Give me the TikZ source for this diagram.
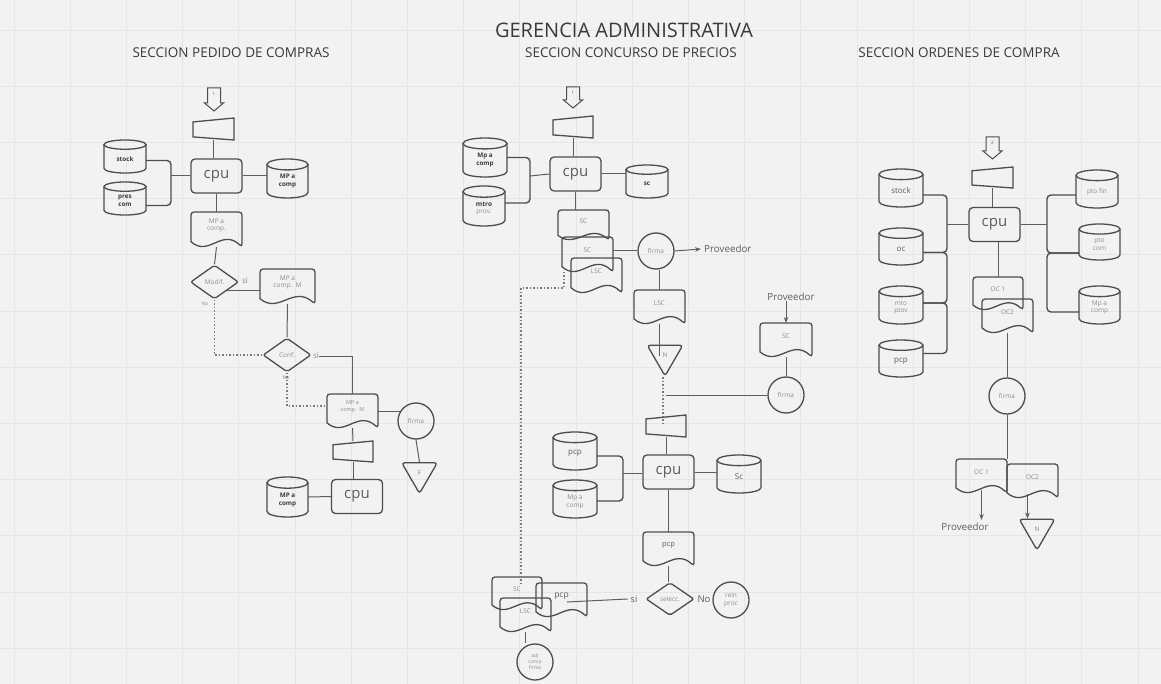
\documentclass[tikz,border=0pt]{standalone}
\usepackage{fontspec}
\setmainfont{Open Sans}
\usetikzlibrary{shapes.geometric,calc,arrows.meta}
\definecolor{bgc}{HTML}{F2F2F2}
\definecolor{gridc}{HTML}{E5E5E5}
\definecolor{sc}{HTML}{4D4D4D}
\definecolor{lc}{HTML}{5E5E5E}
\definecolor{dc}{HTML}{7A7A7A}
\definecolor{gtxt}{HTML}{8C8C8C}
\definecolor{dtxt}{HTML}{3A3A3A}
\newcommand\fs[2]{\fontsize{#1}{#2}\selectfont}
\tikzset{
  box/.style={rectangle,draw=none,inner sep=0pt,outer sep=0pt},
  shp/.style={draw=sc,line width=1.3pt},
  ln/.style={draw=lc,line width=1pt},
  brk/.style={draw=sc,line width=1.4pt,rounded corners=4pt},
  dsh/.style={draw=dc,line width=1.1pt,dash pattern=on 1.5pt off 2pt},
  arr/.style={ln,-{Stealth[length=6pt,width=4.5pt]}},
  dtx/.style={text=gtxt,font=\fs{6.5}{7.6},align=center,inner sep=0pt},
  ctx/.style={text=gtxt,font=\fs{6.5}{7.6},align=center,inner sep=0pt},
  cbold/.style={text=dtxt,font=\bfseries\fs{6.3}{7.6}},
  cpubox/.style={rectangle,draw=sc,line width=1.3pt,rounded corners=4pt,minimum width=51pt,minimum height=34pt,inner sep=0pt,text=lc,font=\fs{15}{18}},
  dia/.style={diamond,draw=sc,line width=1.3pt,rounded corners=2pt,minimum width=48pt,minimum height=34pt,inner sep=0pt,text=gtxt,font=\fs{6.5}{7.6}},
  circ/.style={circle,draw=sc,line width=1.3pt,minimum size=36pt,inner sep=0pt,text=gtxt,font=\fs{6.5}{7.6},align=center},
  tri/.style={regular polygon,regular polygon sides=3,shape border rotate=180,draw=sc,line width=1.3pt,rounded corners=3pt,minimum size=41pt,inner sep=0pt,text=gtxt,font=\fs{6.5}{7.6}},
  lbl/.style={inner sep=0pt,text=gtxt,font=\fs{8}{9}},
  prov/.style={inner sep=0pt,text=lc,font=\fs{9.8}{11}},
  ttl/.style={inner sep=0pt,text=dtxt,font=\fs{13.5}{16}},
}
\newcommand\Doc[7][]{%
  \pgfmathsetmacro\dw{#5-#3}\pgfmathsetmacro\dh{#6-#4}%
  \node[box,minimum width=\dw pt,minimum height=\dh pt] (#2) at ({(#3+#5)/2},{(#4+#6)/2}) {};
  \node[dtx,#1] (#2t) at ({(#3+#5)/2},{#4+0.38*\dh}) {#7};
  \draw[shp,rounded corners=3pt] (#3,{#6-0.15*\dh}) -- (#3,#4) -- (#5,#4) -- (#5,#6) [sharp corners]
    .. controls ({#3+0.6*\dw},{#6-0.55*\dh}) and ({#3+0.35*\dw},{#6+0.3*\dh}) .. (#3,{#6-0.15*\dh}) -- cycle;
}
\newcommand\Cyl[7][]{%
  \pgfmathsetmacro\cw{#5-#3}\pgfmathsetmacro\ch{#6-#4}%
  \pgfmathsetmacro\cx{(#3+#5)/2}\pgfmathsetmacro\rx{\cw/2}\pgfmathsetmacro\ry{0.14*\ch}%
  \pgfmathsetmacro\ka{0.552*\ry}\pgfmathsetmacro\kb{0.552*\rx}%
  \node[box,minimum width=\cw pt,minimum height=\ch pt] (#2) at (\cx,{(#4+#6)/2}) {};
  \node[ctx,#1] (#2t) at (\cx,{(#4+#6+\ry)/2}) {#7};
  \draw[shp] (#3,{#4+\ry}) -- (#3,{#6-\ry}) .. controls (#3,{#6-\ry+\ka}) and ({\cx-\kb},#6) .. (\cx,#6)
    .. controls ({\cx+\kb},#6) and (#5,{#6-\ry+\ka}) .. (#5,{#6-\ry}) -- (#5,{#4+\ry});
  \draw[shp] (\cx,{#4+\ry}) ellipse [x radius=\rx pt, y radius=\ry pt];
}
\newcommand\Trap[5]{%
  \pgfmathsetmacro\th{#5-#3}%
  \node[box,minimum width={(#4-#2)*1pt},minimum height=\th pt] (#1) at ({(#2+#4)/2},{(#3+#5)/2}) {};
  \draw[shp] (#2,{#3+0.18*\th}) -- (#4,#3) -- (#4,#5) -- (#2,{#5-0.14*\th}) -- cycle;
}
\newcommand\BArrow[5]{%
  \node[box,minimum width=19pt,minimum height={(#4-#3)*1pt}] (#1) at (#2,{(#3+#4)/2}) {};
  \draw[shp,line width=1pt] ({#2-6.5},#3) -- ({#2+6.5},#3) -- ({#2+6.5},{#4-8}) -- ({#2+9.5},{#4-8}) -- (#2,#4)
    -- ({#2-9.5},{#4-8}) -- ({#2-6.5},{#4-8}) -- cycle;
  \node[inner sep=0pt,text=lc,font=\fs{4.5}{5}] (#1t) at (#2,{#3+6}) {#5};
}
\begin{document}
\begin{tikzpicture}[x=1pt,y=-1pt]
\useasboundingbox (0,0) rectangle (1161,684);
\fill[bgc] (0,0) rectangle (1161,684);
\foreach \i in {0,...,20} \draw[gridc,line width=0.7pt] ({14+56.2*\i},0) -- ({14+56.2*\i},684);
\foreach \i in {0,...,11} \draw[gridc,line width=0.7pt] (0,{30+56.2*\i}) -- (1161,{30+56.2*\i});

% titles
\node[inner sep=0pt,text=dtxt,font=\fs{20}{23}] (title) at (624,30) {GERENCIA ADMINISTRATIVA};
\node[ttl] (s1) at (231,53) {SECCION PEDIDO DE COMPRAS};
\node[ttl] (s2) at (631,53) {SECCION CONCURSO DE PRECIOS};
\node[ttl] (s3) at (959,53) {SECCION ORDENES DE COMPRA};

% ===== left section =====
\BArrow{arL}{214}{88}{111}{1}
\Trap{trL}{193}{118}{234}{140}
\node[cpubox] (cpuL) at (216.5,176) {cpu};
\Cyl[cbold]{stockL}{104}{140}{146}{173}{stock}
\Cyl[cbold]{presL}{104}{182}{146}{215}{pres\\com}
\Cyl[cbold]{mpL}{267}{159}{308}{198}{MP a\\comp}
\coordinate (brL) at (171,176);
\draw[brk] ([yshift=-4pt]stockL.east) -| (brL) |- ([yshift=-7pt]presL.east);
\draw[ln] (brL) -- (cpuL.west);
\draw[ln] (cpuL.east) -- (cpuL.east -| mpL.west);
\draw[ln] (trL.south) -- (trL.south |- cpuL.north);
\Doc{docA}{191}{212}{242}{247}{MP a\\comp.}
\draw[ln] (cpuL.south) -- (docA.north);
\node[dia] (modL) at (214.5,282) {Modif.};
\draw[ln] (docA.south) -- (modL.north);
\node[lbl] (siL1) at (245,281) {si};
\node[inner sep=0pt,text=gtxt,font=\fs{5}{6}] (noL1) at (205,304) {No};
\Doc{docM}{260}{269}{315}{304}{MP a\\comp.\ \ M}
\draw[ln] (modL.south east) -- (modL.south east -| docM.west);
\node[dia] (confL) at (287,355) {Conf.};
\draw[ln] (docM.south) -- (confL.north);
\node[lbl] (siL2) at (316,356) {si};
\node[inner sep=0pt,text=gtxt,font=\fs{5}{6}] (noL2) at (286,378) {No};
\Doc[font=\fs{5.5}{6.6}]{docN}{327}{394}{378}{428}{MP a\\comp.\ \ M}
\draw[ln] (siL2.east) -| (docN.north);
\draw[dsh] (modL.south) |- (confL.west);
\draw[dsh] (confL.south) |- ([yshift=5pt]docN.west);
\node[circ] (firmaL) at (416,421) {firma};
\draw[ln] (firmaL.150) -- (firmaL.150 -| docN.east);
\node[tri] (fL) at (419.5,473) {F};
\draw[ln] (firmaL.south) -- (fL.north);
\Trap{trL2}{333}{441}{373}{462}
\draw[ln] (docN.south) -- (trL2.north);
\node[cpubox] (cpuL2) at (357,496.5) {cpu};
\draw[ln] (trL2.south) -- (trL2.south |- cpuL2.north);
\Cyl[cbold]{mpL2}{267}{477}{308}{517}{MP a\\comp}
\draw[ln] (mpL2.east) -- (cpuL2.west);

% ===== middle section =====
\BArrow{arM}{573}{87}{108}{1}
\Trap{trM}{553}{116}{593}{138}
\node[cpubox] (cpuM) at (575.5,174) {cpu};
\draw[ln] (trM.south) -- (trM.south |- cpuM.north);
\Cyl[cbold]{mpcM}{463}{138}{507}{177}{Mp a\\comp}
\Cyl{mtroM}{463}{186}{505}{226}{{\bfseries\color{dtxt}mtro}\\prov.}
\coordinate (brM) at (530,176);
\draw[brk] (mpcM.east) -| (brM) |- ([yshift=3pt]mtroM.east);
\draw[ln] (brM) -- (cpuM.west);
\Cyl[cbold]{scM}{626}{165}{668}{198}{sc}
\draw[ln] (cpuM.east) -- (cpuM.east -| scM.west);
\Doc{scd1}{558}{210}{609}{240}{SC}
\draw[ln] (cpuM.south) -- (cpuM.south |- scd1.north);
\Doc{scd2}{562}{237}{613}{272}{SC}
\Doc{lscd}{571}{258}{622}{293}{LSC}
\node[circ] (firmaM) at (656,251) {firma};
\draw[ln] (firmaM.west) -- (firmaM.west -| scd2.east);
\node[prov,anchor=west] (provM1) at (704,249) {Proveedor};
\draw[arr] (firmaM.east) -- ([xshift=-3pt]provM1.west);
\Doc{lscM}{634}{290}{685}{324}{LSC}
\draw[ln] (lscM.north |- firmaM.south) -- (lscM.north);
\node[tri] (nM) at (665,355.5) {N};
\draw[ln] (lscM.south) -- (lscM.south |- nM.center);
\node[prov] (provM2) at (791,297) {Proveedor};
\Doc{scM3}{760}{323}{812}{357}{SC}
\draw[arr] (scM3.north |- provM2.south) -- (scM3.north);
\node[circ] (firmaM2) at (786,395) {firma};
\draw[ln] (scM3.south) -- (firmaM2.north);
\Trap{trM2}{646}{415}{686}{437}
\draw[dsh] ([xshift=-2pt]nM.south) -- ([xshift=-2pt]nM.south |- trM2.center);
\draw[ln] (firmaM2.west) -- (firmaM2.west -| trM2.north);
\node[cpubox] (cpuM2) at (668.5,472) {cpu};
\draw[ln] (trM2.south) -- (trM2.south |- cpuM2.north);
\Cyl[text=lc,font=\fs{8}{9}]{pcpM}{553}{432}{597}{470}{pcp}
\Cyl{mpM2}{553}{480}{597}{518}{Mp a\\comp}
\coordinate (brM2) at (623,473);
\draw[brk] ([yshift=-5pt]pcpM.east) -| (brM2) |- ([yshift=-2pt]mpM2.east);
\draw[ln] (brM2) -- (brM2 -| cpuM2.west);
\Cyl[text=lc,font=\fs{8}{9}]{scM2}{717}{455}{761}{493}{Sc}
\draw[ln] (cpuM2.east) -- (cpuM2.east -| scM2.west);
\Doc[text=lc,font=\fs{7.5}{9}]{pcpD}{643}{532}{694}{566}{pcp}
\draw[ln] (cpuM2.south) -- (cpuM2.south |- pcpD.north);
\node[dia,minimum height=33pt] (selM) at (670,599) {selecc.};
\draw[ln] (pcpD.south) -- (pcpD.south |- selM.north);
\node[lbl,text=lc,font=\fs{9.5}{11}] (noM) at (704,599) {No};
\node[circ] (reinM) at (731,600) {rein\\proc};
\node[lbl,text=lc,font=\fs{9}{10}] (siM) at (634,599) {si};
\Doc{scb}{492}{577}{542}{610}{SC}
\Doc[text=lc,font=\fs{8.5}{10}]{pcpb}{536}{583}{587}{617}{pcp}
\Doc{lscb}{500}{598}{551}{632}{LSC}
\coordinate (siEnd) at (567,602);
\draw[ln] ([xshift=-3pt]siM.west) -- (siEnd);
\node[circ,font=\fs{5}{6}] (adjM) at (535,662) {adj\\comp\\firma};
\draw[ln] (lscb.south) -- (lscb.south |- adjM.north);
\coordinate (dj1) at (521,288);
\draw[dsh] ([xshift=2pt]scd2.south west) |- (dj1) -- ([yshift=-8pt]scb.north -| dj1);

% ===== right section =====
\BArrow{arR}{992.5}{137}{159}{2}
\Trap{trR}{972}{167}{1013}{188}
\node[cpubox] (cpuR) at (994.5,224.5) {cpu};
\draw[ln] (trR.south) -- (trR.south |- cpuR.north);
\Cyl[text=lc,font=\fs{8}{9}]{stockR}{879}{169}{923}{207}{stock}
\Cyl[text=lc,font=\fs{8}{9}]{ocR}{879}{228}{923}{265}{oc}
\Cyl{mtoR}{879}{286}{923}{324}{mto\\ptov}
\Cyl[text=lc,font=\fs{8}{9}]{pcpR}{879}{340}{923}{377}{pcp}
\coordinate (bR1) at (947,224.5);
\coordinate (bR2) at (947,278);
\coordinate (bR3) at (947,328);
\draw[brk] ([yshift=-7pt]stockR.east) -| (bR1) |- ([yshift=-6pt]ocR.east);
\draw[brk] ([yshift=-6pt]ocR.east) -| (bR2) |- ([yshift=2pt]mtoR.east);
\draw[brk] ([yshift=2pt]mtoR.east) -| (bR3) |- ([yshift=5pt]pcpR.east);
\draw[ln] (bR1) -- (cpuR.west);
\Cyl{ptofR}{1076}{170}{1118}{208}{pto fin}
\Cyl{ptocR}{1079}{224}{1120}{260}{pto\\com}
\Cyl{mpR}{1079}{286}{1120}{324}{Mp a\\comp}
\coordinate (bRR1) at (1047,224.5);
\coordinate (bRR2) at (1047,284);
\draw[brk] ([yshift=-6pt]ptofR.west) -| (bRR1) |- ([yshift=-11pt]ptocR.west);
\draw[brk] ([yshift=-11pt]ptocR.west) -| (bRR2) |- ([yshift=-7pt]mpR.west);
\draw[ln] (cpuR.east) -- (bRR1);
\Doc{oc1}{973}{277}{1023}{310}{OC 1}
\draw[ln] (oc1.north |- cpuR.south) -- (oc1.north);
\Doc{oc2}{982}{299}{1033}{333}{OC2}
\node[circ] (firmaR) at (1007,396) {firma};
\draw[ln] (oc2.south) -- (oc2.south |- firmaR.north);
\Doc{oc1b}{956}{459}{1007}{493}{OC 1}
\Doc{oc2b}{1007}{464}{1058}{498}{OC2}
\draw[ln] (firmaR.south) -- (oc1b.north east);
\node[prov] (provR) at (965,527) {Proveedor};
\draw[arr] ([yshift=3pt]oc1b.south) -- ([yshift=3pt]oc1b.south |- provR.north);
\node[tri] (nR) at (1037,529.5) {N};
\draw[arr] ([xshift=-5pt,yshift=4pt]oc2b.south) -- ([xshift=-5pt]oc2b.south |- nR.north);
\end{tikzpicture}
\end{document}
